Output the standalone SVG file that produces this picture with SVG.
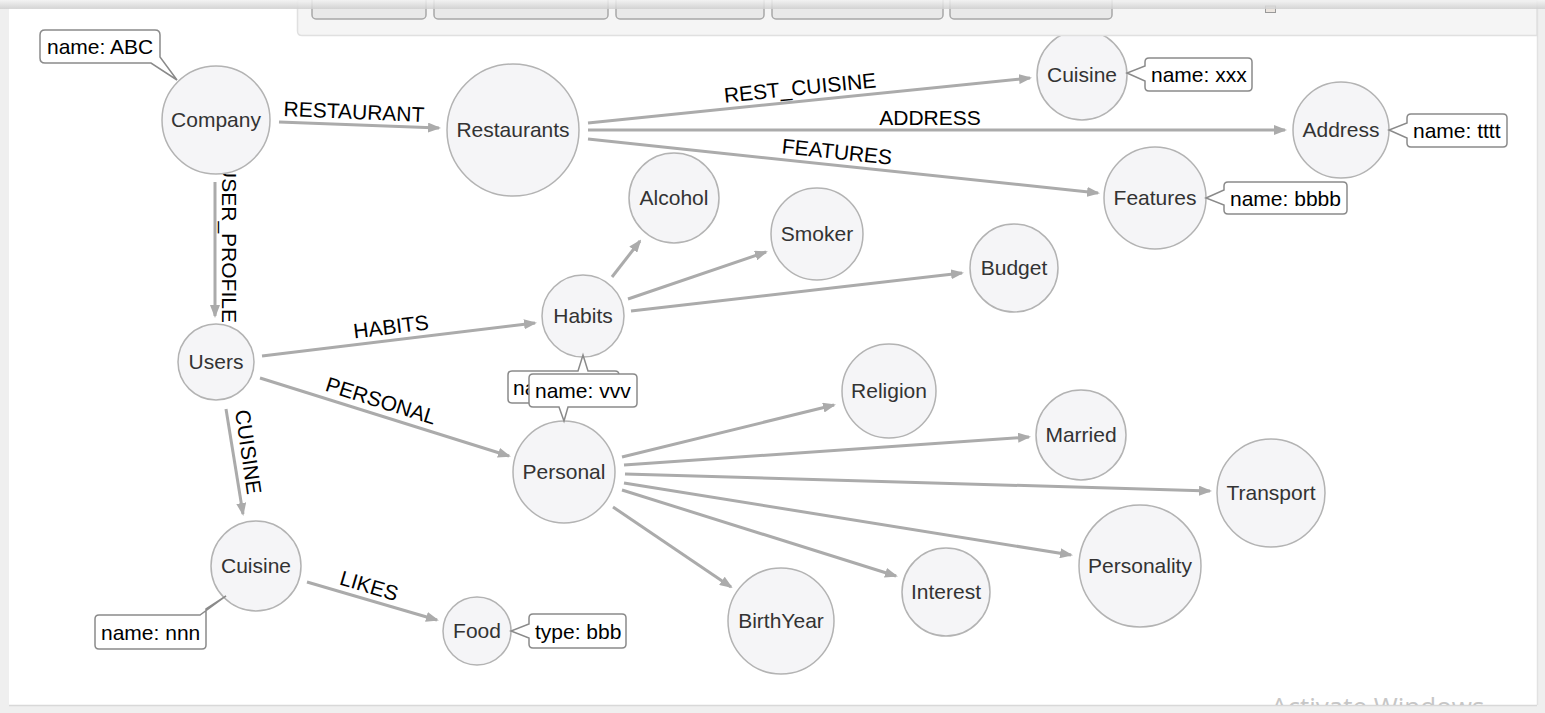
<svg xmlns="http://www.w3.org/2000/svg" width="1545" height="713" viewBox="0 0 1545 713">
<style>
.node circle{fill:#f5f5f7;stroke:#b3b3b3;stroke-width:1.5}
.node text{font-family:"Liberation Sans",Arial,sans-serif;font-size:21px;fill:#333;text-anchor:middle}
.edge line{stroke:#ababab;stroke-width:3;marker-end:url(#arr)}
.elabel{font-family:"Liberation Sans",Arial,sans-serif;font-size:21px;fill:#000;text-anchor:middle}
.callout path{fill:#fff;stroke:#8a8a8a;stroke-width:1.5}
.callout text{font-family:"Liberation Sans",Arial,sans-serif;font-size:21px;fill:#000}
.btn{fill:#e9e9e9;stroke:#a8a8a8;stroke-width:1.5}
</style>
<defs>
<marker id="arr" markerUnits="userSpaceOnUse" markerWidth="13" markerHeight="10" refX="11" refY="5" orient="auto">
<path d="M0,0 L13,5 L0,10 Z" fill="#ababab"/>
</marker>
<linearGradient id="topsh" x1="0" y1="0" x2="0" y2="1">
<stop offset="0" stop-color="#f4f4f4"/>
<stop offset="1" stop-color="#cfcfcf"/>
</linearGradient>
<clipPath id="frameclip"><rect x="9" y="8" width="1528" height="697"/></clipPath>
</defs>

<!-- frame -->
<rect x="0" y="0" width="1545" height="713" fill="#efefef"/>
<rect x="9" y="8" width="1528" height="697" fill="#fff"/>
<line x1="9" y1="705.5" x2="1537" y2="705.5" stroke="#d8d8d8" stroke-width="1.5"/>
<line x1="1537.5" y1="8" x2="1537.5" y2="705" stroke="#e2e2e2" stroke-width="1.5"/>

<!-- connectors -->
<g id="edges" class="edge">
<line x1="279" y1="122" x2="439" y2="128"/>
<line x1="588" y1="123" x2="1030" y2="78"/>
<line x1="588" y1="130" x2="1285" y2="130"/>
<line x1="588" y1="139" x2="1098" y2="193"/>
<line x1="215" y1="182" x2="215" y2="316"/>
<line x1="262" y1="356" x2="535" y2="323"/>
<line x1="260" y1="378" x2="509" y2="456"/>
<line x1="226" y1="409" x2="243" y2="514"/>
<line x1="307" y1="582" x2="437" y2="620"/>
<line x1="612" y1="277" x2="640" y2="241"/>
<line x1="628" y1="299" x2="766" y2="252"/>
<line x1="631" y1="311" x2="962" y2="273"/>
<line x1="622" y1="457" x2="834" y2="405"/>
<line x1="624" y1="465" x2="1029" y2="437"/>
<line x1="625" y1="474" x2="1210" y2="491"/>
<line x1="624" y1="483" x2="1071" y2="555"/>
<line x1="622" y1="490" x2="896" y2="576"/>
<line x1="613" y1="507" x2="731" y2="587"/>
<text class="elabel" transform="translate(354,112) rotate(2.5)" y="7">RESTAURANT</text>
<text class="elabel" transform="translate(800,88) rotate(-5.8)" y="7">REST_CUISINE</text>
<text class="elabel" transform="translate(930,118)" y="7">ADDRESS</text>
<text class="elabel" transform="translate(837,152) rotate(5.9)" y="7">FEATURES</text>
<text class="elabel" transform="translate(229,243) rotate(90)" y="7">USER_PROFILE</text>
<text class="elabel" transform="translate(391,327) rotate(-6.9)" y="7">HABITS</text>
<text class="elabel" transform="translate(381,401) rotate(17.5)" y="7">PERSONAL</text>
<text class="elabel" transform="translate(248,452) rotate(81.8)" y="7">CUISINE</text>
<text class="elabel" transform="translate(369,586) rotate(16.4)" y="7">LIKES</text>
</g>

<!-- nodes -->
<g id="n-company" class="node"><circle cx="216" cy="120" r="54"/><text x="216" y="127">Company</text></g>
<g id="n-restaurants" class="node"><circle cx="513" cy="130" r="66"/><text x="513" y="137">Restaurants</text></g>
<g id="n-cuisine-top" class="node"><circle cx="1082" cy="75" r="45"/><text x="1082" y="82">Cuisine</text></g>
<g id="n-address" class="node"><circle cx="1341" cy="130" r="48"/><text x="1341" y="137">Address</text></g>
<g id="n-features" class="node"><circle cx="1155" cy="198" r="51"/><text x="1155" y="205">Features</text></g>
<g id="n-alcohol" class="node"><circle cx="674" cy="198" r="45"/><text x="674" y="205">Alcohol</text></g>
<g id="n-smoker" class="node"><circle cx="817" cy="234" r="46"/><text x="817" y="241">Smoker</text></g>
<g id="n-budget" class="node"><circle cx="1014" cy="268" r="44"/><text x="1014" y="275">Budget</text></g>
<g id="n-habits" class="node"><circle cx="583" cy="316" r="41"/><text x="583" y="323">Habits</text></g>
<g id="n-users" class="node"><circle cx="216" cy="362" r="38"/><text x="216" y="369">Users</text></g>
<g id="n-personal" class="node"><circle cx="564" cy="472" r="51"/><text x="564" y="479">Personal</text></g>
<g id="n-religion" class="node"><circle cx="889" cy="391" r="47"/><text x="889" y="398">Religion</text></g>
<g id="n-married" class="node"><circle cx="1081" cy="435" r="45"/><text x="1081" y="442">Married</text></g>
<g id="n-transport" class="node"><circle cx="1271" cy="493" r="54"/><text x="1271" y="500">Transport</text></g>
<g id="n-personality" class="node"><circle cx="1140" cy="566" r="61"/><text x="1140" y="573">Personality</text></g>
<g id="n-interest" class="node"><circle cx="946" cy="592" r="44"/><text x="946" y="599">Interest</text></g>
<g id="n-birthyear" class="node"><circle cx="781" cy="621" r="53"/><text x="781" y="628">BirthYear</text></g>
<g id="n-cuisine-bottom" class="node"><circle cx="256" cy="566" r="45"/><text x="256" y="573">Cuisine</text></g>
<g id="n-food" class="node"><circle cx="477" cy="631" r="34"/><text x="477" y="638">Food</text></g>

<!-- property callouts -->
<g id="c-abc" class="callout"><path d="M45 30 H155 Q160 30 160 35 V57 L177 80 L151 63 H45 Q40 63 40 58 V35 Q40 30 45 30 Z"/><text x="47" y="54">name: ABC</text></g>
<g id="c-xxx" class="callout"><path d="M1149 58 H1248 Q1252 58 1252 62 V87 Q1252 91 1248 91 H1149 Q1145 91 1145 87 V81 L1127 73 L1145 66 V62 Q1145 58 1149 58 Z"/><text x="1151" y="82">name: xxx</text></g>
<g id="c-tttt" class="callout"><path d="M1411 114 H1503 Q1507 114 1507 118 V143 Q1507 147 1503 147 H1411 Q1407 147 1407 143 V138 L1389 130 L1407 123 V118 Q1407 114 1411 114 Z"/><text x="1413" y="138">name: tttt</text></g>
<g id="c-bbbb" class="callout"><path d="M1228 182 H1343 Q1347 182 1347 186 V210 Q1347 214 1343 214 H1228 Q1224 214 1224 210 V205 L1206 198 L1224 190 V186 Q1224 182 1228 182 Z"/><text x="1230" y="206">name: bbbb</text></g>
<g id="c-nnn" class="callout"><path d="M99 615 H200 L226 596 L206 609 V645 Q206 649 202 649 H99 Q95 649 95 645 V619 Q95 615 99 615 Z"/><text x="101" y="640">name: nnn</text></g>
<g id="c-type" class="callout"><path d="M533 614 H622 Q626 614 626 618 V644 Q626 648 622 648 H533 Q529 648 529 644 V638 L511 631 L529 624 V618 Q529 614 533 614 Z"/><text x="535" y="639">type: bbb</text></g>
<g id="c-back" class="callout"><path d="M512 371 H578 L583 355 L588 371 H615 Q619 371 619 375 V399 Q619 403 615 403 H512 Q508 403 508 399 V375 Q508 371 512 371 Z"/><text x="513" y="395">na</text></g>
<g id="c-vvv" class="callout"><path d="M533 374 H633 Q637 374 637 378 V403 Q637 407 633 407 H568 L564 421 L559 407 H533 Q529 407 529 403 V378 Q529 374 533 374 Z"/><text x="535" y="398">name: vvv</text></g>

<!-- toolbar -->
<g id="toolbar">
<path d="M297.5 0 V31 Q297.5 35.5 302 35.5 H1537 V0 Z" fill="#f5f5f5" stroke="#e0e0e0" stroke-width="1.5"/>
<rect class="btn" x="312" y="-6" width="114" height="25" rx="4"/>
<rect class="btn" x="434" y="-6" width="174" height="25" rx="4"/>
<rect class="btn" x="616" y="-6" width="148" height="25" rx="4"/>
<rect class="btn" x="772" y="-6" width="171" height="25" rx="4"/>
<rect class="btn" x="950" y="-6" width="162" height="25" rx="4"/>
<rect x="1265.5" y="6" width="10" height="6.5" fill="#ece6e0" stroke="#999" stroke-width="1"/>
</g>
<rect x="0" y="0" width="1545" height="9" fill="url(#topsh)" opacity="0.85"/>

<text x="1271" y="716" clip-path="url(#frameclip)" font-family="'Open Sans','Noto Sans',sans-serif" font-size="26" fill="#c6c6c6">Activate Windows</text>
</svg>
